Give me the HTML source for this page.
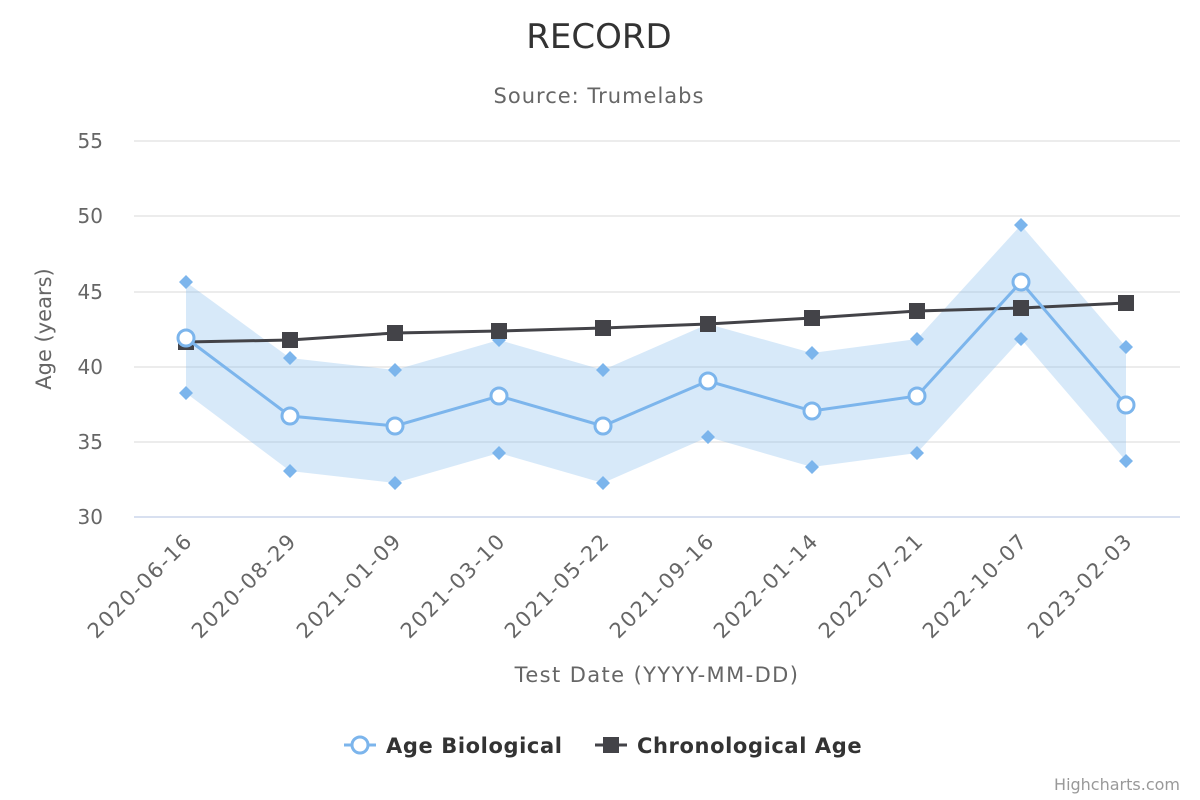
<!DOCTYPE html>
<html><head><meta charset="utf-8"><style>
body{margin:0;background:#fff;}
svg{display:block;font-family:"DejaVu Sans","Liberation Sans",sans-serif;}
</style></head><body>
<svg width="1200" height="800" viewBox="0 0 1200 800" xmlns="http://www.w3.org/2000/svg">
<rect width="1200" height="800" fill="#fff"/>
<text x="599" y="48" text-anchor="middle" font-size="34" fill="#333">RECORD</text>
<text x="599" y="103" text-anchor="middle" font-size="21" fill="#666" letter-spacing="1">Source: Trumelabs</text>
<g stroke="#e6e6e6" stroke-width="1.5">
<line x1="134" y1="141" x2="1180" y2="141"/>
<line x1="134" y1="216" x2="1180" y2="216"/>
<line x1="134" y1="292" x2="1180" y2="292"/>
<line x1="134" y1="367" x2="1180" y2="367"/>
<line x1="134" y1="442" x2="1180" y2="442"/>
</g>
<line x1="134" y1="517" x2="1180" y2="517" stroke="#ccd6eb" stroke-width="1.5"/>
<g font-size="20" fill="#666" text-anchor="end">
<text x="103" y="148">55</text><text x="103" y="223">50</text><text x="103" y="299">45</text>
<text x="103" y="374">40</text><text x="103" y="449">35</text><text x="103" y="524">30</text>
</g>
<text transform="translate(51,329) rotate(-90)" text-anchor="middle" font-size="21" fill="#666">Age (years)</text>
<g font-size="21" fill="#666" text-anchor="end" letter-spacing="1.6">
<text transform="translate(194,542) rotate(-45)">2020-06-16</text>
<text transform="translate(298,542) rotate(-45)">2020-08-29</text>
<text transform="translate(403,542) rotate(-45)">2021-01-09</text>
<text transform="translate(507,542) rotate(-45)">2021-03-10</text>
<text transform="translate(611,542) rotate(-45)">2021-05-22</text>
<text transform="translate(716,542) rotate(-45)">2021-09-16</text>
<text transform="translate(820,542) rotate(-45)">2022-01-14</text>
<text transform="translate(925,542) rotate(-45)">2022-07-21</text>
<text transform="translate(1029,542) rotate(-45)">2022-10-07</text>
<text transform="translate(1134,542) rotate(-45)">2023-02-03</text>
</g>
<text x="657" y="682" text-anchor="middle" font-size="21" fill="#666" letter-spacing="1.4">Test Date (YYYY-MM-DD)</text>
<polygon fill="#7cb5ec" fill-opacity="0.3" points="186,282 290,358 395,370 499,340 603,370 708,324 812,353 917,339 1021,225 1126,347 1126,461 1021,339 917,453 812,467 708,437 603,483 499,453 395,483 290,471 186,393"/>
<g fill="#7cb5ec">
<path d="M186,275l7,7l-7,7l-7,-7z M290,351l7,7l-7,7l-7,-7z M395,363l7,7l-7,7l-7,-7z M499,333l7,7l-7,7l-7,-7z M603,363l7,7l-7,7l-7,-7z M708,317l7,7l-7,7l-7,-7z M812,346l7,7l-7,7l-7,-7z M917,332l7,7l-7,7l-7,-7z M1021,218l7,7l-7,7l-7,-7z M1126,340l7,7l-7,7l-7,-7z"/>
<path d="M186,386l7,7l-7,7l-7,-7z M290,464l7,7l-7,7l-7,-7z M395,476l7,7l-7,7l-7,-7z M499,446l7,7l-7,7l-7,-7z M603,476l7,7l-7,7l-7,-7z M708,430l7,7l-7,7l-7,-7z M812,460l7,7l-7,7l-7,-7z M917,446l7,7l-7,7l-7,-7z M1021,332l7,7l-7,7l-7,-7z M1126,454l7,7l-7,7l-7,-7z"/>
</g>
<polyline fill="none" stroke="#434348" stroke-width="3" points="186,342 290,340 395,333 499,331 603,328 708,324 812,318 917,311 1021,308 1126,303"/>
<g fill="#434348">
<rect x="178" y="334" width="16" height="16"/><rect x="282" y="332" width="16" height="16"/><rect x="387" y="325" width="16" height="16"/><rect x="491" y="323" width="16" height="16"/><rect x="595" y="320" width="16" height="16"/><rect x="700" y="316" width="16" height="16"/><rect x="804" y="310" width="16" height="16"/><rect x="909" y="303" width="16" height="16"/><rect x="1013" y="300" width="16" height="16"/><rect x="1118" y="295" width="16" height="16"/>
</g>
<polyline fill="none" stroke="#7cb5ec" stroke-width="3" points="186,338 290,416 395,426 499,396 603,426 708,381 812,411 917,396 1021,282 1126,405"/>
<g fill="#fff" stroke="#7cb5ec" stroke-width="3">
<circle cx="186" cy="338" r="8"/><circle cx="290" cy="416" r="8"/><circle cx="395" cy="426" r="8"/><circle cx="499" cy="396" r="8"/><circle cx="603" cy="426" r="8"/><circle cx="708" cy="381" r="8"/><circle cx="812" cy="411" r="8"/><circle cx="917" cy="396" r="8"/><circle cx="1021" cy="282" r="8"/><circle cx="1126" cy="405" r="8"/>
</g>
<line x1="344" y1="745" x2="376" y2="745" stroke="#7cb5ec" stroke-width="3"/>
<circle cx="360" cy="745" r="8" fill="#fff" stroke="#7cb5ec" stroke-width="3"/>
<text x="386" y="753" font-size="21" font-weight="bold" fill="#333" letter-spacing="0.6">Age Biological</text>
<line x1="595" y1="745" x2="627" y2="745" stroke="#434348" stroke-width="3"/>
<rect x="603" y="737" width="16" height="16" fill="#434348"/>
<text x="637" y="753" font-size="21" font-weight="bold" fill="#333" letter-spacing="0.6">Chronological Age</text>
<text x="1180" y="790" text-anchor="end" font-size="16" fill="#999">Highcharts.com</text>
</svg>
</body></html>
